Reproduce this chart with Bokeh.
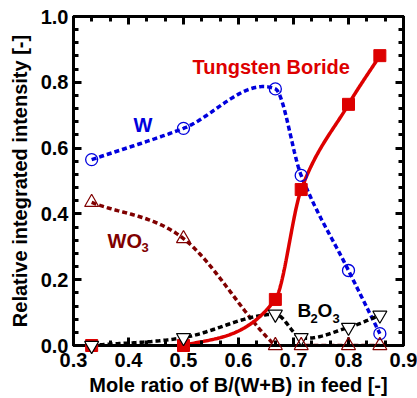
import numpy as np
from bokeh.plotting import figure
from bokeh.models import (LinearAxis, SingleIntervalTicker, PrintfTickFormatter,
                          Range1d, Label, ColumnDataSource)
from bokeh.embed import file_html
from bokeh.resources import INLINE

# ---- data ----
x_ratio = [0.333, 0.5, 0.667, 0.714, 0.8, 0.857]
w_vals = [0.565, 0.66, 0.78, 0.517, 0.228, 0.036]
boride_vals = [0.0, 0.0, 0.14, 0.474, 0.733, 0.881]
wo3_vals = [0.435, 0.325, 0.0, 0.0, 0.0, 0.0]
b2o3_vals = [0.0, 0.024, 0.095, 0.024, 0.055, 0.092]

x_title = "Mole ratio of B/(W+B) in feed [-]"
y_title = "Relative integrated intensity [-]"

FONT = "Liberation Sans"
BLUE = "#0000dd"
RED = "#dd0000"
DARKRED = "#800000"


def smooth(xs, ys, n=60):
    """Cubic Hermite (Catmull-Rom style) curve through the data points."""
    xs = np.asarray(xs, float)
    ys = np.asarray(ys, float)
    m = np.empty_like(ys)
    m[1:-1] = (ys[2:] - ys[:-2]) / (xs[2:] - xs[:-2])
    m[0] = (ys[1] - ys[0]) / (xs[1] - xs[0])
    m[-1] = (ys[-1] - ys[-2]) / (xs[-1] - xs[-2])
    ox, oy = [], []
    for i in range(len(xs) - 1):
        h = xs[i + 1] - xs[i]
        t = np.linspace(0, 1, n, endpoint=(i == len(xs) - 2))
        h00 = 2 * t**3 - 3 * t**2 + 1
        h10 = t**3 - 2 * t**2 + t
        h01 = -2 * t**3 + 3 * t**2
        h11 = t**3 - t**2
        ox.append(xs[i] + t * h)
        oy.append(h00 * ys[i] + h10 * h * m[i] + h01 * ys[i + 1] + h11 * h * m[i + 1])
    return np.concatenate(ox), np.concatenate(oy)


p = figure(width=417, height=398, output_backend="svg", toolbar_location=None,
           x_range=Range1d(0.3, 0.9), y_range=Range1d(0.0, 1.0),
           min_border_left=73, min_border_right=14, min_border_top=16,
           min_border_bottom=53, x_axis_location=None, y_axis_location=None)
p.grid.visible = False
p.outline_line_color = "black"
p.outline_line_width = 3
p.background_fill_color = "white"
p.border_fill_color = "white"


def style_axis(ax, labels=True):
    ax.axis_line_width = 3
    ax.axis_line_color = "black"
    ax.major_tick_in = 8
    ax.major_tick_out = 0
    ax.minor_tick_in = 5
    ax.minor_tick_out = 0
    ax.major_tick_line_width = 3
    ax.minor_tick_line_width = 3
    if labels:
        ax.major_label_text_font = FONT
        ax.major_label_text_font_style = "bold"
        ax.major_label_text_font_size = "20px"
        ax.major_label_text_color = "black"
        ax.axis_label_text_font = FONT
        ax.axis_label_text_font_style = "bold"
        ax.axis_label_text_font_size = "20px"
        ax.axis_label_text_color = "black"
    else:
        ax.major_label_text_font_size = "1px"
        ax.major_label_text_color = None
        ax.major_label_standoff = 0


xt = SingleIntervalTicker(interval=0.1, num_minor_ticks=3)
yt = SingleIntervalTicker(interval=0.2, num_minor_ticks=5)
fmt = PrintfTickFormatter(format="%.1f")

xb = LinearAxis(ticker=xt, formatter=fmt, axis_label=x_title)
style_axis(xb)
xb.major_label_standoff = 7
xb.axis_label_standoff = 4
p.add_layout(xb, "below")

yl = LinearAxis(ticker=yt, formatter=fmt, axis_label=y_title)
style_axis(yl)
yl.major_label_standoff = 5
yl.axis_label_standoff = 7
p.add_layout(yl, "left")

xa = LinearAxis(ticker=xt, formatter=fmt)
style_axis(xa, labels=False)
p.add_layout(xa, "above")

yr = LinearAxis(ticker=yt, formatter=fmt)
style_axis(yr, labels=False)
p.add_layout(yr, "right")

# ---- smooth curves ----
cx, cy = smooth(x_ratio, w_vals)
p.line(cx, cy, line_color=BLUE, line_width=3.5, line_dash="5 3")
cx, cy = smooth(x_ratio, wo3_vals)
p.line(cx, cy, line_color=DARKRED, line_width=3.5, line_dash="5 3")
cx, cy = smooth(x_ratio, b2o3_vals)
p.line(cx, cy, line_color="black", line_width=3.5, line_dash="5 3")
cx, cy = smooth(x_ratio, boride_vals)
p.line(cx, cy, line_color=RED, line_width=3.5)

# ---- markers (overlay level so they are not cut at the frame edge) ----
src = ColumnDataSource(dict(x=x_ratio, w=w_vals, boride=boride_vals,
                            wo3=wo3_vals, b2o3=b2o3_vals))
p.scatter("x", "w", source=src, marker="circle", size=12, line_color=BLUE,
          line_width=1.3, fill_color=None, level="overlay")
p.scatter("x", "boride", source=src, marker="square", size=12, line_color=RED,
          fill_color=RED, level="overlay")
p.scatter("x", "b2o3", source=src, marker="inverted_triangle", size=14,
          line_color="black", line_width=1.2, fill_color="white", level="overlay")
p.scatter("x", "wo3", source=src, marker="triangle", size=14,
          line_color=DARKRED, line_width=1.2, fill_color=None, level="overlay")


# ---- text labels ----
def lab(x, y, text, color, size="20px", xo=0, yo=0):
    p.add_layout(Label(x=x, y=y, text=text, text_color=color, text_font=FONT,
                       text_font_style="bold", text_font_size=size,
                       text_align="left", text_baseline="alphabetic",
                       x_offset=xo, y_offset=yo))


lab(0.5164, 0.845, "Tungsten Boride", RED)
lab(0.409, 0.669, "W", BLUE)
lab(0.362, 0.319, "WO", DARKRED)
lab(0.362, 0.319, "3", DARKRED, size="13px", xo=34, yo=-7)
lab(0.7073, 0.1064, "B", "black", size="19px")
lab(0.7073, 0.1064, "2", "black", size="13px", xo=13, yo=-8)
lab(0.7073, 0.1064, "O", "black", size="19px", xo=20)
lab(0.7073, 0.1064, "3", "black", size="13px", xo=35, yo=-8)

open("out.html", "w").write(file_html(p, INLINE))
